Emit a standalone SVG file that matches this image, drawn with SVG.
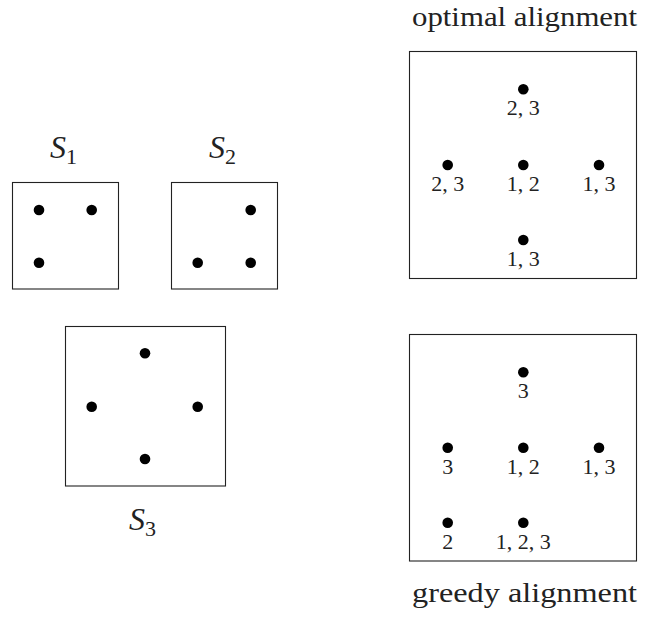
<svg xmlns="http://www.w3.org/2000/svg" width="647" height="621" viewBox="0 0 647 621">
<style>
.box{fill:#fff;stroke:#222;stroke-width:1.1}
.dot{fill:#000}
.lbl{font-family:"Liberation Serif","Times New Roman",serif;font-size:22px;fill:#222;text-anchor:middle}
.title{font-family:"Liberation Serif","Times New Roman",serif;font-size:27px;fill:#222}
.set{font-family:"Liberation Serif","Times New Roman",serif;font-size:32px;font-style:italic;fill:#222}
.sub{font-style:normal;font-size:22px}
</style>
<rect width="647" height="621" fill="#fff"/>
<g id="connectors"/>
<g id="S1">
  <text class="set" x="50" y="158">S<tspan class="sub" dy="6">1</tspan></text>
  <rect class="box" x="12.5" y="182.5" width="106" height="106.5"/>
  <circle class="dot" cx="39" cy="210" r="5.3"/>
  <circle class="dot" cx="91.7" cy="210" r="5.3"/>
  <circle class="dot" cx="39" cy="262.7" r="5.3"/>
</g>
<g id="S2">
  <text class="set" x="209" y="158">S<tspan class="sub" dy="6">2</tspan></text>
  <rect class="box" x="171.5" y="182.5" width="106" height="106.5"/>
  <circle class="dot" cx="250.7" cy="210" r="5.3"/>
  <circle class="dot" cx="197.7" cy="262.7" r="5.3"/>
  <circle class="dot" cx="250.7" cy="262.7" r="5.3"/>
</g>
<g id="S3">
  <rect class="box" x="65.5" y="326.5" width="160" height="159.5"/>
  <circle class="dot" cx="145" cy="353.3" r="5.3"/>
  <circle class="dot" cx="91.7" cy="406.7" r="5.3"/>
  <circle class="dot" cx="197.7" cy="406.7" r="5.3"/>
  <circle class="dot" cx="145" cy="459" r="5.3"/>
  <text class="set" x="129" y="530">S<tspan class="sub" dy="6">3</tspan></text>
</g>
<g id="optimal">
  <text class="title" x="412" y="26" textLength="225" lengthAdjust="spacingAndGlyphs">optimal alignment</text>
  <rect class="box" x="409.5" y="51.5" width="227" height="227"/>
  <circle class="dot" cx="523.3" cy="89.3" r="5.3"/>
  <text class="lbl" x="523.3" y="115">2, 3</text>
  <circle class="dot" cx="447.7" cy="165" r="5.3"/>
  <text class="lbl" x="447.7" y="191">2, 3</text>
  <circle class="dot" cx="523.3" cy="165" r="5.3"/>
  <text class="lbl" x="523.3" y="191">1, 2</text>
  <circle class="dot" cx="599" cy="165" r="5.3"/>
  <text class="lbl" x="599" y="191">1, 3</text>
  <circle class="dot" cx="523.3" cy="240" r="5.3"/>
  <text class="lbl" x="523.3" y="266">1, 3</text>
</g>
<g id="greedy">
  <rect class="box" x="409.5" y="334.5" width="227" height="226.5"/>
  <circle class="dot" cx="523.3" cy="372.3" r="5.3"/>
  <text class="lbl" x="523.3" y="398">3</text>
  <circle class="dot" cx="447.7" cy="447.7" r="5.3"/>
  <text class="lbl" x="447.7" y="474">3</text>
  <circle class="dot" cx="523.3" cy="447.7" r="5.3"/>
  <text class="lbl" x="523.3" y="474">1, 2</text>
  <circle class="dot" cx="599" cy="447.7" r="5.3"/>
  <text class="lbl" x="599" y="474">1, 3</text>
  <circle class="dot" cx="447.7" cy="522.7" r="5.3"/>
  <text class="lbl" x="447.7" y="549">2</text>
  <circle class="dot" cx="523.3" cy="522.7" r="5.3"/>
  <text class="lbl" x="523.3" y="549">1, 2, 3</text>
  <text class="title" x="412" y="602" textLength="225" lengthAdjust="spacingAndGlyphs">greedy alignment</text>
</g>
</svg>
